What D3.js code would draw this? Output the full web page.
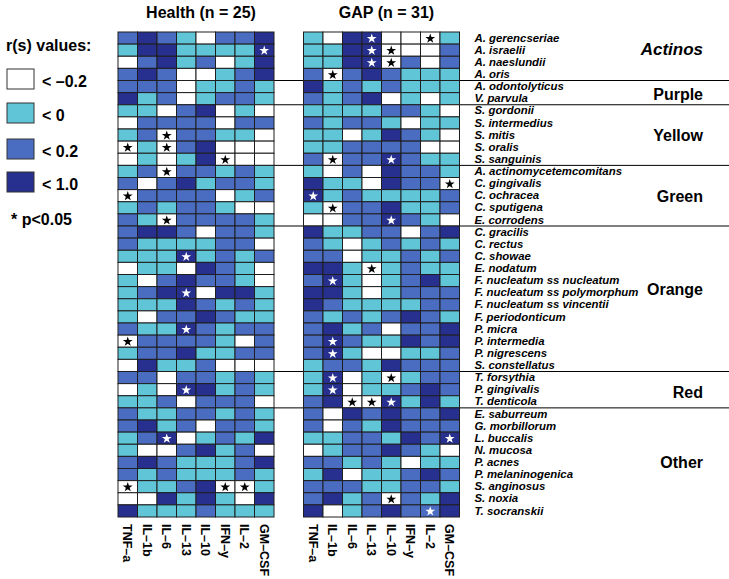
<!DOCTYPE html>
<html>
<head>
<meta charset="utf-8">
<script src="https://cdn.jsdelivr.net/npm/d3@7"></script>
<style>
  body { margin: 0; background: #fff; }
  svg { display: block; font-family: "Liberation Sans", Arial, Helvetica, sans-serif; }
</style>
</head>
<body>
<svg class="chart" width="729" height="579"></svg>
<script>
// Cytokines (columns) and bacterial species (rows)
var cytokines = ["TNF–a", "IL–1b", "IL–6", "IL–13", "IL–10", "IFN–y", "IL–2", "GM–CSF"];

var species = [
    "A. gerencseriae", "A. israelii", "A. naeslundii", "A. oris",
    "A. odontolyticus", "V. parvula",
    "S. gordonii", "S. intermedius", "S. mitis", "S. oralis", "S. sanguinis",
    "A. actinomycetemcomitans", "C. gingivalis", "C. ochracea", "C. sputigena", "E. corrodens",
    "C. gracilis", "C. rectus", "C. showae", "E. nodatum", "F. nucleatum ss nucleatum",
    "F. nucleatum ss polymorphum", "F. nucleatum ss vincentii", "F. periodonticum",
    "P. micra", "P. intermedia", "P. nigrescens", "S. constellatus",
    "T. forsythia", "P. gingivalis", "T. denticola",
    "E. saburreum", "G. morbillorum", "L. buccalis", "N. mucosa", "P. acnes",
    "P. melaninogenica", "S. anginosus", "S. noxia", "T. socranskii"
];

// Complexes and how many species each holds
var groupNames = ["Actinos", "Purple", "Yellow", "Green", "Orange", "Red", "Other"];
var groupSizes = [4, 2, 5, 5, 12, 3, 9];

// Legend classes: 0 = < -0.2, 1 = < 0, 2 = < 0.2, 3 = < 1.0
var classLabels = ["< –0.2", "< 0", "< 0.2", "< 1.0"];

// r(s) class per species row, per cytokine column
var healthLevels = [
    [2,3,2,1,0,2,2,3], [1,3,3,1,1,1,1,3], [0,2,3,1,2,0,1,3], [2,3,2,0,0,1,2,3],
    [2,2,2,0,1,1,2,1], [3,1,2,0,1,2,2,1],
    [1,1,0,2,3,0,1,0], [0,2,2,2,2,0,2,2], [1,2,0,2,2,1,1,0], [0,1,0,2,3,0,0,0], [0,1,0,1,3,0,0,0],
    [1,2,0,2,2,1,2,1], [2,0,2,3,1,2,2,1], [0,2,2,2,2,0,1,2], [1,2,1,2,2,1,0,0], [2,1,0,2,2,2,2,1],
    [2,3,3,2,0,2,2,1], [2,1,1,1,1,2,2,0], [1,1,1,3,1,2,1,2], [0,1,1,0,3,2,1,0],
    [1,0,2,3,2,2,1,0], [1,2,3,3,0,3,3,1], [1,1,1,3,2,1,2,1], [1,0,2,2,3,2,1,1],
    [2,1,1,3,2,1,2,2], [0,2,2,2,2,1,0,2], [1,2,2,3,1,1,2,2], [0,3,1,1,2,0,0,0],
    [2,2,0,2,2,1,2,1], [0,1,0,3,3,1,2,1], [1,1,2,0,2,2,2,0],
    [2,1,1,2,2,1,2,1], [2,3,1,2,0,2,2,1], [1,2,3,0,1,2,1,3], [1,0,0,2,3,1,2,0],
    [2,3,2,1,1,1,2,3], [2,1,2,1,1,1,2,1], [0,1,1,2,3,0,0,1], [0,0,3,1,3,1,0,3],
    [3,1,1,1,2,1,1,1]
];

var gapLevels = [
    [1,0,3,3,0,0,0,1], [1,1,3,3,0,0,0,2], [1,1,3,3,0,2,0,2], [2,0,2,3,2,1,1,1],
    [3,1,2,1,2,1,1,1], [2,1,2,3,0,1,0,1],
    [1,1,1,1,2,2,1,0], [2,1,2,2,1,0,1,1], [1,1,0,1,3,2,1,0], [1,1,2,2,2,2,0,0], [2,0,2,2,3,2,1,1],
    [1,0,2,0,3,2,2,1], [3,1,1,0,3,2,2,0], [3,1,2,1,1,1,1,2], [1,0,2,2,3,1,1,2], [0,0,2,2,3,2,1,0],
    [3,1,1,2,2,0,2,3], [2,1,0,1,2,1,2,1], [2,2,0,1,1,2,1,2], [3,3,1,0,1,2,1,1],
    [2,3,1,0,1,2,3,1], [3,3,1,0,1,2,2,2], [3,2,1,1,1,1,2,2], [2,1,2,1,2,3,2,1],
    [2,3,1,2,0,2,2,3], [2,3,2,1,1,3,2,3], [2,3,1,0,0,1,1,2], [1,2,2,1,3,2,2,2],
    [1,3,0,1,0,1,2,2], [1,3,0,1,1,2,3,2], [2,3,0,0,3,1,3,1],
    [2,0,3,2,3,2,2,3], [2,0,2,1,3,2,2,2], [1,1,2,2,1,3,2,3], [0,1,2,2,3,2,1,0],
    [2,2,1,2,1,0,1,1], [1,3,0,1,1,2,3,2], [2,2,2,1,1,2,2,1], [2,3,1,2,0,2,1,3],
    [3,0,1,2,3,2,2,3]
];

// p<0.05 cells as [species row, cytokine column]
var healthStars = [[1,7],[8,2],[9,0],[9,2],[10,5],[11,2],[13,0],[15,2],[18,3],
    [21,3],[24,3],[25,0],[29,3],[33,2],[37,0],[37,5],[37,6]];
var gapStars = [[0,3],[0,6],[1,3],[1,4],[2,3],[2,4],[3,1],[10,1],[10,4],[12,7],
    [13,0],[14,1],[15,4],[19,3],[20,1],[25,1],[26,1],[28,1],[28,4],[29,1],
    [30,2],[30,3],[30,4],[33,7],[38,4],[39,6]];

var panels = [
    {title: "Health (n = 25)", levels: healthLevels, stars: healthStars, left: 118},
    {title: "GAP (n = 31)", levels: gapLevels, stars: gapStars, left: 303.5}
];

var svg = d3.select(".chart");
var colors = ["#ffffff", "#60c5d7", "#4b6dc1", "#27308f"];
var cellW = 19.5;
var gridTop = 32, gridBottom = 517;

var y = d3.scaleBand().domain(species).range([gridTop, gridBottom]);
var rowH = y.bandwidth();

// Group separator lines, drawn under the GAP panel
var cum = d3.cumsum(groupSizes);
svg.append("g").selectAll("line")
    .data(Array.from(cum).slice(0, -1))
    .enter().append("line")
    .attr("x1", panels[0].left + cellW * 8)
    .attr("x2", 729)
    .attr("y1", function(d) { return gridTop + d * rowH; })
    .attr("y2", function(d) { return gridTop + d * rowH; })
    .attr("stroke", "#000")
    .attr("stroke-width", 1);

panels.forEach(function(p) {
    var x = d3.scaleBand().domain(cytokines).range([p.left, p.left + cellW * 8]);
    var g = svg.append("g");

    var cells = [];
    p.levels.forEach(function(row, i) {
        row.forEach(function(v, j) {
            cells.push({sp: species[i], ck: cytokines[j], level: v});
        });
    });

    g.selectAll(".cell")
        .data(cells)
        .enter().append("rect")
        .attr("class", "cell")
        .attr("x", function(d) { return x(d.ck); })
        .attr("y", function(d) { return y(d.sp); })
        .attr("width", x.bandwidth())
        .attr("height", rowH)
        .attr("fill", function(d) { return colors[d.level]; })
        .attr("stroke", "#1e1e1e")
        .attr("stroke-width", 1);

    // Significance stars
    var star = d3.symbol().type(d3.symbolStar).size(30);
    g.selectAll(".star")
        .data(p.stars)
        .enter().append("path")
        .attr("class", "star")
        .attr("d", star)
        .attr("transform", function(d) {
            return "translate(" + (x(cytokines[d[1]]) + x.bandwidth() / 2) + "," +
                (y(species[d[0]]) + rowH / 2 + 0.5) + ")";
        })
        .attr("fill", function(d) { return p.levels[d[0]][d[1]] >= 2 ? "#fff" : "#000"; });

    // Title
    svg.append("text")
        .attr("x", p.left + cellW * 4 + 5)
        .attr("y", 18)
        .attr("text-anchor", "middle")
        .attr("font-weight", "bold")
        .attr("font-size", 16)
        .text(p.title);

    // Column labels
    var xAxis = g.append("g")
        .attr("transform", "translate(0," + gridBottom + ")")
        .call(d3.axisBottom(x).tickSize(0).tickPadding(0));
    xAxis.select(".domain").remove();
    xAxis.selectAll("text")
        .attr("transform", "rotate(90)")
        .attr("x", 7)
        .attr("y", 0)
        .attr("dy", "0.35em")
        .attr("text-anchor", "start")
        .attr("font-family", "Liberation Sans, Arial, sans-serif")
        .attr("font-weight", "bold")
        .attr("font-size", 12.5)
        .attr("fill", "#000");
});

// Species labels
var yAxis = svg.append("g")
    .attr("transform", "translate(" + (panels[1].left + cellW * 8) + ",0)")
    .call(d3.axisRight(y).tickSize(0).tickPadding(15));
yAxis.select(".domain").remove();
yAxis.selectAll("text")
    .attr("font-family", "Liberation Sans, Arial, sans-serif")
    .attr("font-style", "italic")
    .attr("font-weight", "bold")
    .attr("font-size", 11.4)
    .attr("fill", "#000");

// Complex names on the right
var nudge = {"Actinos": -7, "Purple": 1, "Orange": -10, "Red": 2};
svg.append("g").selectAll("text")
    .data(groupNames)
    .enter().append("text")
    .attr("x", 703)
    .attr("y", function(d, i) {
        var start = i === 0 ? 0 : cum[i - 1];
        return gridTop + (start + cum[i]) / 2 * rowH + (nudge[d] || 0) + 6;
    })
    .attr("text-anchor", "end")
    .attr("font-weight", "bold")
    .attr("font-style", function(d) { return d === "Actinos" ? "italic" : "normal"; })
    .attr("font-size", function(d) { return d === "Actinos" ? 17 : 16; })
    .text(function(d) { return d; });

// Legend
var legend = svg.append("g");
legend.append("text")
    .attr("x", 6)
    .attr("y", 51)
    .attr("font-weight", "bold")
    .attr("font-size", 16)
    .text("r(s) values:");

var legendTops = [69, 103, 139, 172];
var items = legend.selectAll(".item")
    .data(classLabels)
    .enter().append("g")
    .attr("class", "item")
    .attr("transform", function(d, i) { return "translate(7," + legendTops[i] + ")"; });
items.append("rect")
    .attr("width", 27)
    .attr("height", 20)
    .attr("fill", function(d, i) { return colors[i]; })
    .attr("stroke", "#333")
    .attr("stroke-width", 1);
items.append("text")
    .attr("x", 35)
    .attr("y", 18)
    .attr("font-weight", "bold")
    .attr("font-size", 16)
    .text(function(d) { return d; });

legend.append("text")
    .attr("x", 11)
    .attr("y", 225)
    .attr("font-weight", "bold")
    .attr("font-size", 16)
    .text("* p<0.05");
</script>
</body>
</html>
